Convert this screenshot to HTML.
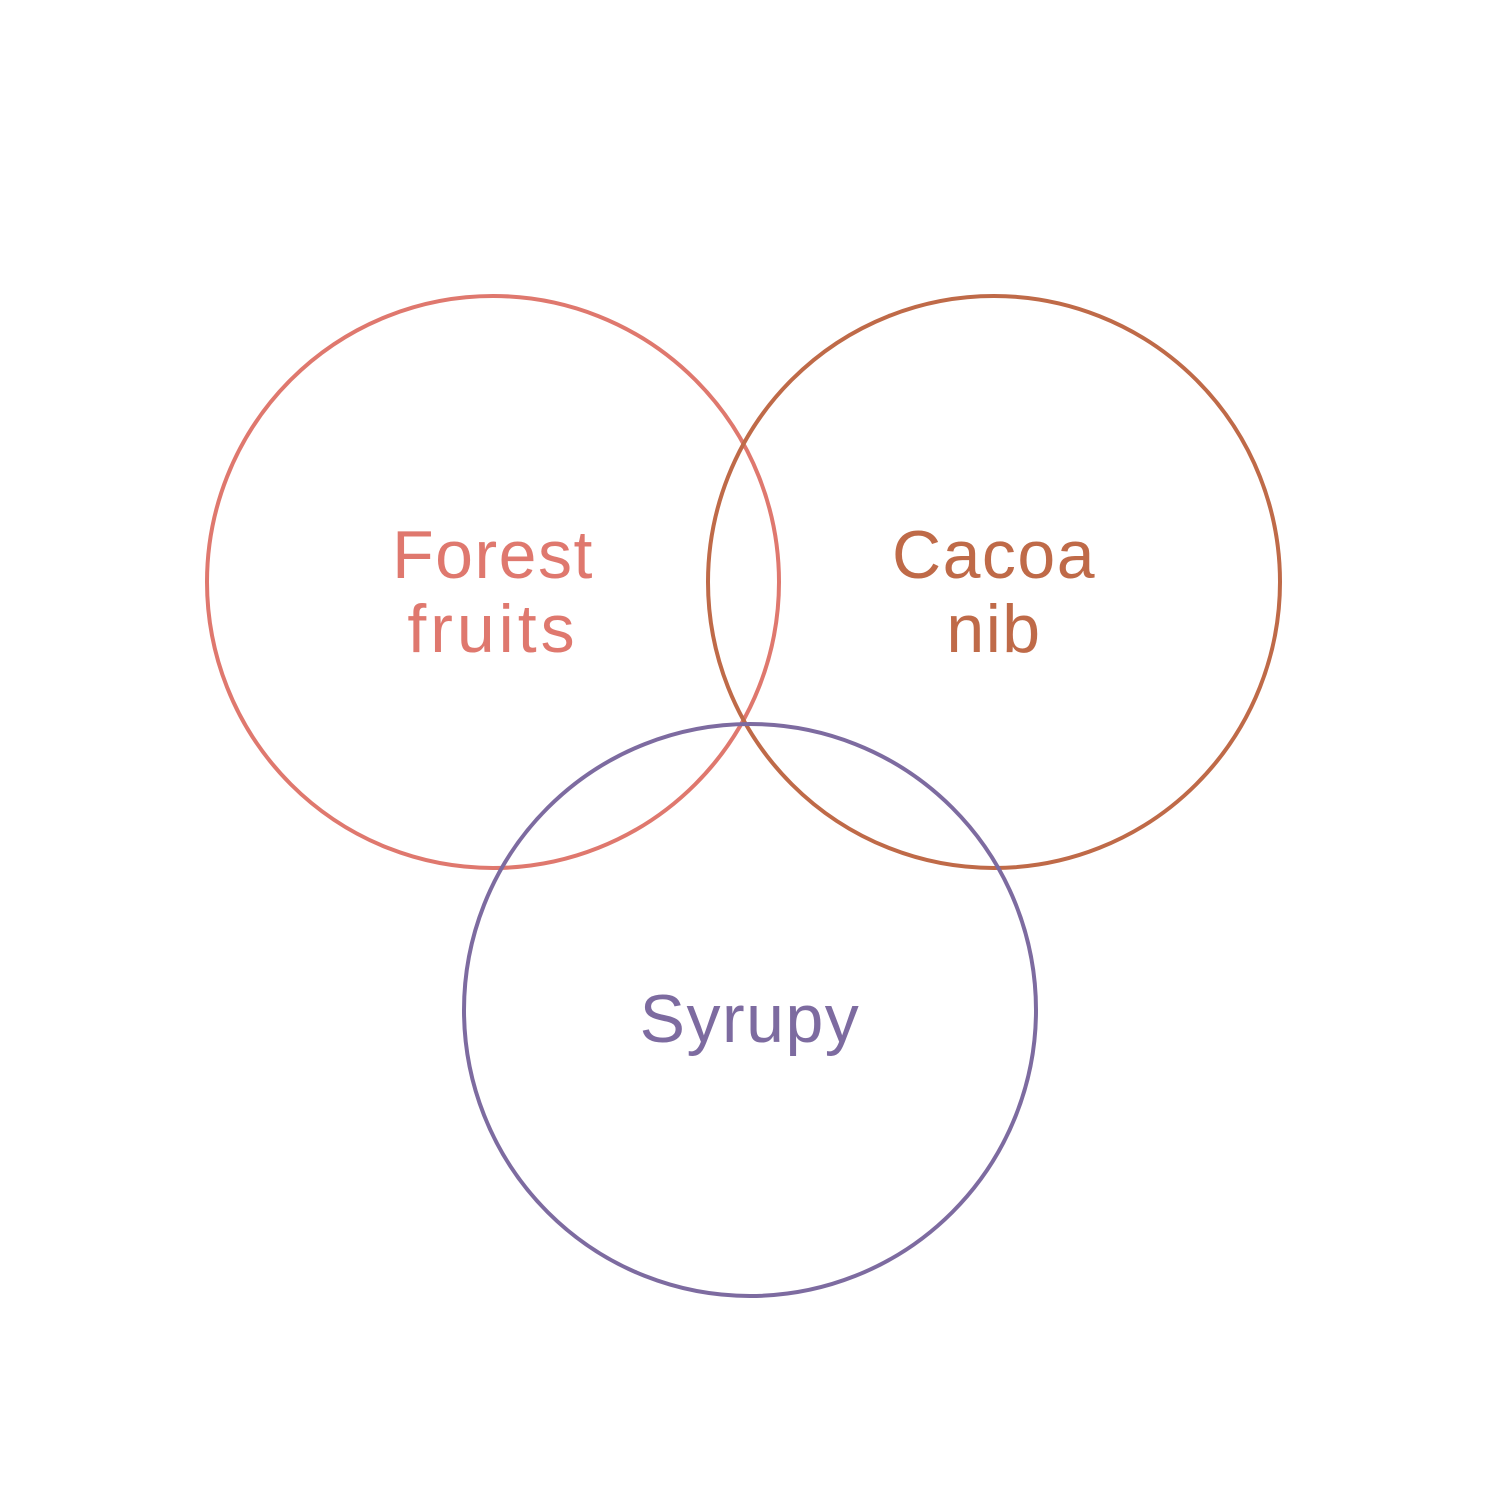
<!DOCTYPE html>
<html><head><meta charset="utf-8"><style>html,body{margin:0;padding:0;background:#fff}svg{display:block}</style></head>
<body>
<svg width="1500" height="1500" viewBox="0 0 1500 1500" xmlns="http://www.w3.org/2000/svg">
<rect width="1500" height="1500" fill="#fff"/>
<g fill="none" stroke-width="4">
<circle cx="493" cy="582" r="286" stroke="#df786e"/>
<circle cx="994" cy="582" r="286" stroke="#bf6a48"/>
<circle cx="750" cy="1010" r="286" stroke="#7d6ba0"/>
</g>
<g font-family="Liberation Sans, sans-serif" font-size="68" text-anchor="middle" letter-spacing="1.5">
<text x="493" y="578" fill="#df786e">Forest</text>
<text x="493" y="652" fill="#df786e" letter-spacing="4">fruits</text>
<text x="994" y="578" fill="#bf6a48">Cacoa</text>
<text x="994" y="652" fill="#bf6a48">nib</text>
<text x="750" y="1042" fill="#7d6ba0">Syrupy</text>
</g>
</svg>
</body></html>
